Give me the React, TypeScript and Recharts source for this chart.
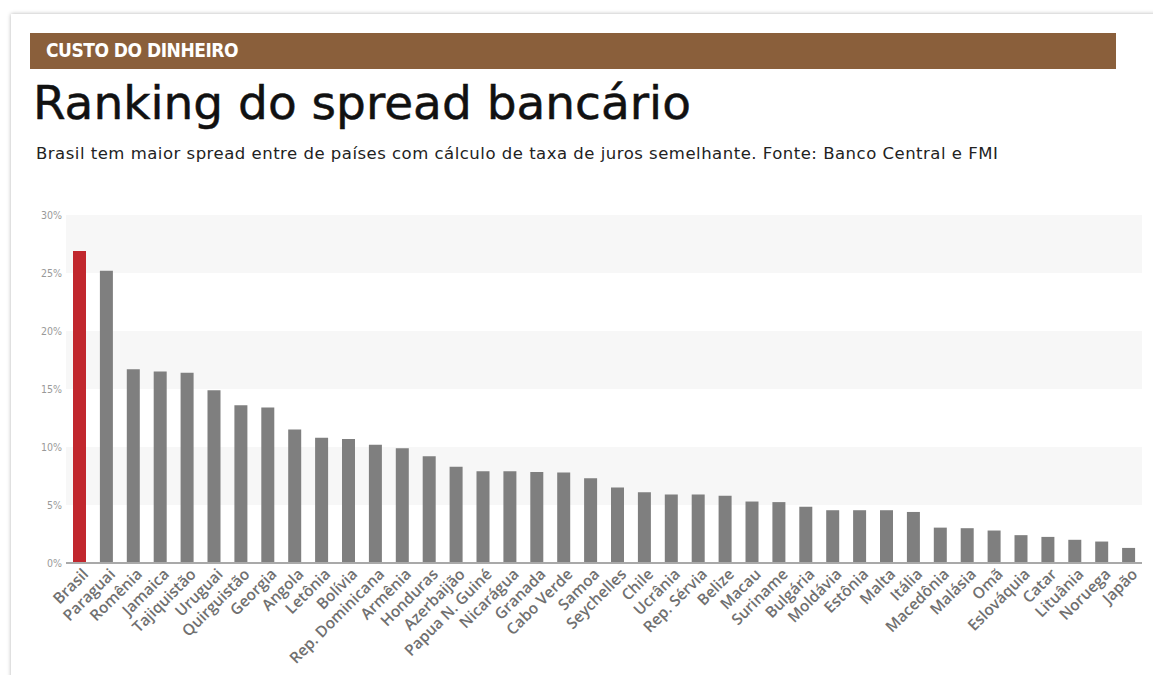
import { Bar, BarChart, CartesianGrid, Cell, XAxis, YAxis } from "recharts";

const countries = [
  "Brasil", "Paraguai", "Romênia", "Jamaica", "Tajiquistão", "Uruguai", "Quirguistão", "Georgia",
  "Angola", "Letônia", "Bolívia", "Rep. Dominicana", "Armênia", "Honduras", "Azerbaijão",
  "Papua N. Guiné", "Nicarágua", "Granada", "Cabo Verde", "Samoa", "Seychelles", "Chile",
  "Ucrânia", "Rep. Sérvia", "Belize", "Macau", "Suriname", "Bulgária", "Moldávia", "Estônia",
  "Malta", "Itália", "Macedônia", "Malásia", "Omã", "Eslováquia", "Catar", "Lituânia",
  "Noruega", "Japão",
];

const spread = [
  26.9, 25.2, 16.7, 16.5, 16.4, 14.9, 13.6, 13.4, 11.5, 10.8, 10.7, 10.2, 9.9, 9.2, 8.3, 7.9,
  7.9, 7.85, 7.8, 7.3, 6.5, 6.1, 5.9, 5.9, 5.8, 5.3, 5.25, 4.85, 4.55, 4.55, 4.55, 4.4, 3.05,
  3.0, 2.8, 2.4, 2.25, 2.0, 1.85, 1.3,
];

const yTicks = [0, 5, 10, 15, 20, 25, 30];

const highlight = "Brasil";

const data = countries.map((name, i) => ({ name, value: spread[i] }));

const condensed = "'DejaVu Sans Condensed', 'DejaVu Sans', sans-serif";
const wide = "'DejaVu Sans', Verdana, sans-serif";

function CountryTick({ x, y, payload }: any) {
  return (
    <g transform={`translate(${x},${y})`}>
      <text
        x={0}
        y={0}
        dy={10}
        dx={4}
        textAnchor="end"
        transform="rotate(-45)"
        fill="#707070"
        fontSize={15.5}
        fontWeight={600}
        fontFamily="'Open Sans', sans-serif"
      >
        {payload.value}
      </text>
    </g>
  );
}

export default function App() {
  return (
    <div style={{ position: "relative", width: 1153, height: 675, overflow: "hidden", background: "#fff" }}>
      <style>{`body{margin:0}`}</style>
      <div
        style={{
          position: "absolute",
          left: 11,
          top: 14,
          width: 1200,
          height: 720,
          background: "#fff",
          boxShadow: "0 0 4px rgba(0,0,0,0.3)",
        }}
      />
      <div
        style={{
          position: "absolute",
          left: 30,
          top: 33,
          width: 1086,
          height: 36,
          background: "#8a5f3b",
        }}
      />
      <div
        style={{
          position: "absolute",
          left: 46,
          top: 39,
          color: "#fff",
          fontFamily: condensed,
          fontWeight: "bold",
          fontSize: 19,
          letterSpacing: -0.5,
        }}
      >
        CUSTO DO DINHEIRO
      </div>
      <div
        style={{
          position: "absolute",
          left: 33,
          top: 75,
          color: "#111",
          fontFamily: wide,
          fontSize: 47,
          whiteSpace: "nowrap",
          WebkitTextStroke: "0.5px #111",
        }}
      >
        Ranking do spread bancário
      </div>
      <div
        style={{
          position: "absolute",
          left: 36,
          top: 144,
          color: "#222",
          fontFamily: wide,
          fontSize: 16.5,
          letterSpacing: 0.5,
          whiteSpace: "nowrap",
        }}
      >
        Brasil tem maior spread entre de países com cálculo de taxa de juros semelhante. Fonte: Banco Central e FMI
      </div>
      <div style={{ position: "absolute", left: 0, top: 200 }}>
        <BarChart
          width={1153}
          height={475}
          data={data}
          margin={{ top: 15, right: 11, bottom: 12, left: 10 }}
          barSize={13}
        >
          <CartesianGrid
            vertical={false}
            stroke="transparent"
            horizontalFill={["#f7f7f7", "#ffffff"]}
          />
          <XAxis
            dataKey="name"
            interval={0}
            height={100}
            tickLine={false}
            axisLine={{ stroke: "#a9a9a9", strokeWidth: 2 }}
            tick={<CountryTick />}
          />
          <YAxis
            width={56}
            domain={[0, 30]}
            ticks={yTicks}
            tickFormatter={(v) => `${v}%`}
            axisLine={false}
            tickLine={false}
            tickSize={2}
            tick={{ fill: "#999", fontSize: 10.5, fontFamily: condensed }}
          />
          <Bar dataKey="value" isAnimationActive={false}>
            {data.map((d) => (
              <Cell key={d.name} fill={d.name === highlight ? "#c1272d" : "#7f7f7f"} />
            ))}
          </Bar>
        </BarChart>
      </div>
    </div>
  );
}
